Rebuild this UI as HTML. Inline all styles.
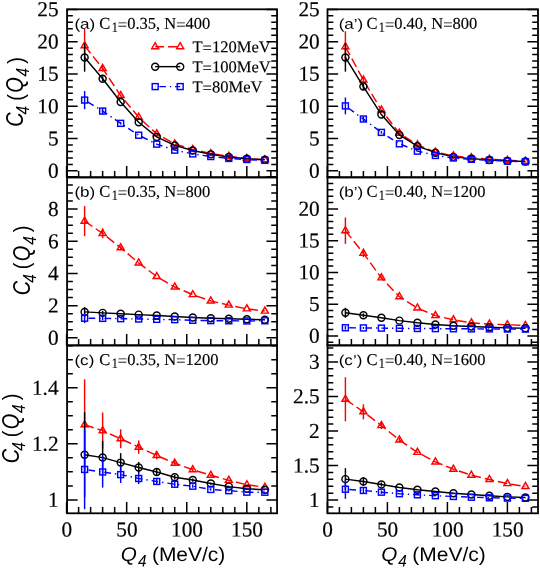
<!DOCTYPE html>
<html><head><meta charset="utf-8"><title>C4(Q4)</title>
<style>
html,body{margin:0;padding:0;background:#fff;}
svg{display:block;will-change:transform;}
text{fill:#000;}
.tl{font-family:"Liberation Serif",serif;font-size:21.3px;stroke:#000;stroke-width:0.18px;}
.pt{font-family:"Liberation Serif",serif;font-size:16.5px;stroke:#000;stroke-width:0.15px;}
.ss{font-family:"Liberation Sans",sans-serif;font-size:14.2px;}
.lg{font-family:"Liberation Serif",serif;font-size:16.55px;stroke:#000;stroke-width:0.15px;}
.xl{font-family:"Liberation Sans",sans-serif;font-size:20px;}
.yl{font-family:"Liberation Sans",sans-serif;}
</style></head><body>
<svg width="540" height="569" viewBox="0 0 540 569">
<rect width="540" height="569" fill="#fff"/>
<g>
<line x1="84.62" y1="29.03" x2="84.62" y2="62.62" stroke="#ff0000" stroke-width="1.45"/>
<line x1="102.64" y1="65.2" x2="102.64" y2="71.66" stroke="#ff0000" stroke-width="1.45"/>
<path d="M84.62 45.82L102.64 68.43L120.67 95.56L138.69 117.2L156.71 133.81L174.74 144.01L192.76 149.5L210.78 153.57L228.8 156.29L246.82 158.48L264.85 159.78" fill="none" stroke="#ff0000" stroke-width="1.45" stroke-dasharray="9.5 4" stroke-dashoffset="0"/>
<path d="M84.62 41.78L81.12 47.84L88.12 47.84Z" fill="none" stroke="#ff0000" stroke-width="1.45"/>
<path d="M102.64 64.39L99.14 70.45L106.14 70.45Z" fill="none" stroke="#ff0000" stroke-width="1.45"/>
<path d="M120.67 91.52L117.17 97.58L124.17 97.58Z" fill="none" stroke="#ff0000" stroke-width="1.45"/>
<path d="M138.69 113.16L135.19 119.23L142.19 119.23Z" fill="none" stroke="#ff0000" stroke-width="1.45"/>
<path d="M156.71 129.77L153.21 135.83L160.21 135.83Z" fill="none" stroke="#ff0000" stroke-width="1.45"/>
<path d="M174.74 139.97L171.24 146.03L178.24 146.03Z" fill="none" stroke="#ff0000" stroke-width="1.45"/>
<path d="M192.76 145.46L189.26 151.53L196.26 151.53Z" fill="none" stroke="#ff0000" stroke-width="1.45"/>
<path d="M210.78 149.53L207.28 155.6L214.28 155.6Z" fill="none" stroke="#ff0000" stroke-width="1.45"/>
<path d="M228.8 152.25L225.3 158.31L232.3 158.31Z" fill="none" stroke="#ff0000" stroke-width="1.45"/>
<path d="M246.82 154.44L243.32 160.51L250.32 160.51Z" fill="none" stroke="#ff0000" stroke-width="1.45"/>
<path d="M264.85 155.73L261.35 161.8L268.35 161.8Z" fill="none" stroke="#ff0000" stroke-width="1.45"/>
<line x1="84.62" y1="43.24" x2="84.62" y2="71.66" stroke="#000000" stroke-width="1.45"/>
<line x1="102.64" y1="76.18" x2="102.64" y2="81.35" stroke="#000000" stroke-width="1.45"/>
<path d="M84.62 57.45L102.64 78.77L120.67 102.02L138.69 122.31L156.71 136.91L174.74 145.44L192.76 150.47L210.78 154.35L228.8 157.06L246.82 158.81L264.85 159.84" fill="none" stroke="#000000" stroke-width="1.45"/>
<circle cx="84.62" cy="57.45" r="3.5" fill="none" stroke="#000000" stroke-width="1.45"/>
<circle cx="102.64" cy="78.77" r="3.5" fill="none" stroke="#000000" stroke-width="1.45"/>
<circle cx="120.67" cy="102.02" r="3.5" fill="none" stroke="#000000" stroke-width="1.45"/>
<circle cx="138.69" cy="122.31" r="3.5" fill="none" stroke="#000000" stroke-width="1.45"/>
<circle cx="156.71" cy="136.91" r="3.5" fill="none" stroke="#000000" stroke-width="1.45"/>
<circle cx="174.74" cy="145.44" r="3.5" fill="none" stroke="#000000" stroke-width="1.45"/>
<circle cx="192.76" cy="150.47" r="3.5" fill="none" stroke="#000000" stroke-width="1.45"/>
<circle cx="210.78" cy="154.35" r="3.5" fill="none" stroke="#000000" stroke-width="1.45"/>
<circle cx="228.8" cy="157.06" r="3.5" fill="none" stroke="#000000" stroke-width="1.45"/>
<circle cx="246.82" cy="158.81" r="3.5" fill="none" stroke="#000000" stroke-width="1.45"/>
<circle cx="264.85" cy="159.84" r="3.5" fill="none" stroke="#000000" stroke-width="1.45"/>
<line x1="84.62" y1="91.04" x2="84.62" y2="109.13" stroke="#0000ff" stroke-width="1.45"/>
<line x1="102.64" y1="107.84" x2="102.64" y2="114.3" stroke="#0000ff" stroke-width="1.45"/>
<line x1="120.67" y1="122.05" x2="120.67" y2="124.63" stroke="#0000ff" stroke-width="1.45"/>
<path d="M84.62 100.09L102.64 111.07L120.67 123.34L138.69 135.23L156.71 144.14L174.74 150.15L192.76 153.9L210.78 156.55L228.8 158.42L246.82 159.52L264.85 160.36" fill="none" stroke="#0000ff" stroke-width="1.45" stroke-dasharray="1.35 4 6.65 4" stroke-dashoffset="1.4"/>
<rect x="81.65" y="97.11" width="5.95" height="5.95" fill="none" stroke="#0000ff" stroke-width="1.45"/>
<rect x="99.67" y="108.09" width="5.95" height="5.95" fill="none" stroke="#0000ff" stroke-width="1.45"/>
<rect x="117.69" y="120.37" width="5.95" height="5.95" fill="none" stroke="#0000ff" stroke-width="1.45"/>
<rect x="135.72" y="132.25" width="5.95" height="5.95" fill="none" stroke="#0000ff" stroke-width="1.45"/>
<rect x="153.74" y="141.17" width="5.95" height="5.95" fill="none" stroke="#0000ff" stroke-width="1.45"/>
<rect x="171.76" y="147.18" width="5.95" height="5.95" fill="none" stroke="#0000ff" stroke-width="1.45"/>
<rect x="189.78" y="150.92" width="5.95" height="5.95" fill="none" stroke="#0000ff" stroke-width="1.45"/>
<rect x="207.81" y="153.57" width="5.95" height="5.95" fill="none" stroke="#0000ff" stroke-width="1.45"/>
<rect x="225.83" y="155.44" width="5.95" height="5.95" fill="none" stroke="#0000ff" stroke-width="1.45"/>
<rect x="243.85" y="156.54" width="5.95" height="5.95" fill="none" stroke="#0000ff" stroke-width="1.45"/>
<rect x="261.87" y="157.38" width="5.95" height="5.95" fill="none" stroke="#0000ff" stroke-width="1.45"/>
<path d="M67.05 177.31h5.8M277.05 177.31h-5.8M67.05 170.85h10.6M277.05 170.85h-10.6M67.05 164.39h5.8M277.05 164.39h-5.8M67.05 157.93h5.8M277.05 157.93h-5.8M67.05 151.48h5.8M277.05 151.48h-5.8M67.05 145.02h5.8M277.05 145.02h-5.8M67.05 138.56h10.6M277.05 138.56h-10.6M67.05 132.1h5.8M277.05 132.1h-5.8M67.05 125.64h5.8M277.05 125.64h-5.8M67.05 119.19h5.8M277.05 119.19h-5.8M67.05 112.73h5.8M277.05 112.73h-5.8M67.05 106.27h10.6M277.05 106.27h-10.6M67.05 99.81h5.8M277.05 99.81h-5.8M67.05 93.35h5.8M277.05 93.35h-5.8M67.05 86.9h5.8M277.05 86.9h-5.8M67.05 80.44h5.8M277.05 80.44h-5.8M67.05 73.98h10.6M277.05 73.98h-10.6M67.05 67.52h5.8M277.05 67.52h-5.8M67.05 61.06h5.8M277.05 61.06h-5.8M67.05 54.61h5.8M277.05 54.61h-5.8M67.05 48.15h5.8M277.05 48.15h-5.8M67.05 41.69h10.6M277.05 41.69h-10.6M67.05 35.23h5.8M277.05 35.23h-5.8M67.05 28.77h5.8M277.05 28.77h-5.8M67.05 22.32h5.8M277.05 22.32h-5.8M67.05 15.86h5.8M277.05 15.86h-5.8M67.05 9.4h10.6M277.05 9.4h-10.6M66.6 177.35v-11.3M78.61 177.35v-6.3M90.63 177.35v-6.3M102.64 177.35v-6.3M114.66 177.35v-6.3M126.67 177.35v-11.3M138.69 177.35v-6.3M150.7 177.35v-6.3M162.72 177.35v-6.3M174.74 177.35v-6.3M186.75 177.35v-11.3M198.76 177.35v-6.3M210.78 177.35v-6.3M222.79 177.35v-6.3M234.81 177.35v-6.3M246.82 177.35v-11.3M258.84 177.35v-6.3M270.86 177.35v-6.3" stroke="#000" stroke-width="1.5" fill="none"/>
<rect x="67.05" y="9.3" width="210" height="168.05" fill="none" stroke="#000" stroke-width="1.8"/>
<text transform="translate(58.55 177.75) rotate(0.03)" text-anchor="end" class="tl">0</text>
<text transform="translate(58.55 145.46) rotate(0.03)" text-anchor="end" class="tl">5</text>
<text transform="translate(58.55 113.17) rotate(0.03)" text-anchor="end" class="tl">10</text>
<text transform="translate(58.55 80.88) rotate(0.03)" text-anchor="end" class="tl">15</text>
<text transform="translate(58.55 48.59) rotate(0.03)" text-anchor="end" class="tl">20</text>
<text transform="translate(58.55 16.3) rotate(0.03)" text-anchor="end" class="tl">25</text>
<text transform="translate(74.45 28.8) rotate(0.03) scale(1.2 1)" class="ss">(a)</text>
<text transform="translate(99.35 28.8) rotate(0.03)" class="pt">C</text>
<text transform="translate(111.65 32.1) rotate(0.03) scale(0.85 1)" class="pt" style="font-size:14.4px">1</text>
<text transform="translate(117.85 28.8) rotate(0.03)" class="pt"><tspan dy="1.1">=</tspan><tspan dy="-1.1">0.35, N</tspan><tspan dy="1.1">=</tspan><tspan dy="-1.1">400</tspan></text>
</g>
<g>
<line x1="345.4" y1="31.29" x2="345.4" y2="62.3" stroke="#ff0000" stroke-width="1.45"/>
<line x1="363.4" y1="76.83" x2="363.4" y2="83.29" stroke="#ff0000" stroke-width="1.45"/>
<path d="M345.4 46.79L363.4 80.06L381.4 110.1L399.4 133.16L417.4 144.85L435.4 152.15L453.4 155.97L471.4 157.64L489.4 159.19L507.4 160.29L525.4 161.2" fill="none" stroke="#ff0000" stroke-width="1.45" stroke-dasharray="9.5 4" stroke-dashoffset="0"/>
<path d="M345.4 42.75L341.9 48.81L348.9 48.81Z" fill="none" stroke="#ff0000" stroke-width="1.45"/>
<path d="M363.4 76.02L359.9 82.08L366.9 82.08Z" fill="none" stroke="#ff0000" stroke-width="1.45"/>
<path d="M381.4 106.06L377.9 112.12L384.9 112.12Z" fill="none" stroke="#ff0000" stroke-width="1.45"/>
<path d="M399.4 129.12L395.9 135.18L402.9 135.18Z" fill="none" stroke="#ff0000" stroke-width="1.45"/>
<path d="M417.4 140.81L413.9 146.87L420.9 146.87Z" fill="none" stroke="#ff0000" stroke-width="1.45"/>
<path d="M435.4 148.11L431.9 154.17L438.9 154.17Z" fill="none" stroke="#ff0000" stroke-width="1.45"/>
<path d="M453.4 151.92L449.9 157.99L456.9 157.99Z" fill="none" stroke="#ff0000" stroke-width="1.45"/>
<path d="M471.4 153.6L467.9 159.67L474.9 159.67Z" fill="none" stroke="#ff0000" stroke-width="1.45"/>
<path d="M489.4 155.15L485.9 161.22L492.9 161.22Z" fill="none" stroke="#ff0000" stroke-width="1.45"/>
<path d="M507.4 156.25L503.9 162.31L510.9 162.31Z" fill="none" stroke="#ff0000" stroke-width="1.45"/>
<path d="M525.4 157.16L521.9 163.22L528.9 163.22Z" fill="none" stroke="#ff0000" stroke-width="1.45"/>
<line x1="345.4" y1="43.24" x2="345.4" y2="71.66" stroke="#000000" stroke-width="1.45"/>
<line x1="363.4" y1="83.94" x2="363.4" y2="89.1" stroke="#000000" stroke-width="1.45"/>
<path d="M345.4 57.45L363.4 86.52L381.4 114.56L399.4 134.97L417.4 146.21L435.4 152.67L453.4 156.87L471.4 158.61L489.4 159.91L507.4 160.87L525.4 161.46" fill="none" stroke="#000000" stroke-width="1.45"/>
<circle cx="345.4" cy="57.45" r="3.5" fill="none" stroke="#000000" stroke-width="1.45"/>
<circle cx="363.4" cy="86.52" r="3.5" fill="none" stroke="#000000" stroke-width="1.45"/>
<circle cx="381.4" cy="114.56" r="3.5" fill="none" stroke="#000000" stroke-width="1.45"/>
<circle cx="399.4" cy="134.97" r="3.5" fill="none" stroke="#000000" stroke-width="1.45"/>
<circle cx="417.4" cy="146.21" r="3.5" fill="none" stroke="#000000" stroke-width="1.45"/>
<circle cx="435.4" cy="152.67" r="3.5" fill="none" stroke="#000000" stroke-width="1.45"/>
<circle cx="453.4" cy="156.87" r="3.5" fill="none" stroke="#000000" stroke-width="1.45"/>
<circle cx="471.4" cy="158.61" r="3.5" fill="none" stroke="#000000" stroke-width="1.45"/>
<circle cx="489.4" cy="159.91" r="3.5" fill="none" stroke="#000000" stroke-width="1.45"/>
<circle cx="507.4" cy="160.87" r="3.5" fill="none" stroke="#000000" stroke-width="1.45"/>
<circle cx="525.4" cy="161.46" r="3.5" fill="none" stroke="#000000" stroke-width="1.45"/>
<line x1="345.4" y1="97.5" x2="345.4" y2="114.3" stroke="#0000ff" stroke-width="1.45"/>
<line x1="363.4" y1="116.43" x2="363.4" y2="121.6" stroke="#0000ff" stroke-width="1.45"/>
<line x1="381.4" y1="131.09" x2="381.4" y2="133.68" stroke="#0000ff" stroke-width="1.45"/>
<path d="M345.4 105.9L363.4 119.01L381.4 132.39L399.4 143.82L417.4 151.12L435.4 155.45L453.4 157.97L471.4 159.32L489.4 160.29L507.4 161.13L525.4 161.71" fill="none" stroke="#0000ff" stroke-width="1.45" stroke-dasharray="1.35 4 6.65 4" stroke-dashoffset="1.4"/>
<rect x="342.42" y="102.93" width="5.95" height="5.95" fill="none" stroke="#0000ff" stroke-width="1.45"/>
<rect x="360.42" y="116.04" width="5.95" height="5.95" fill="none" stroke="#0000ff" stroke-width="1.45"/>
<rect x="378.42" y="129.41" width="5.95" height="5.95" fill="none" stroke="#0000ff" stroke-width="1.45"/>
<rect x="396.42" y="140.85" width="5.95" height="5.95" fill="none" stroke="#0000ff" stroke-width="1.45"/>
<rect x="414.42" y="148.15" width="5.95" height="5.95" fill="none" stroke="#0000ff" stroke-width="1.45"/>
<rect x="432.42" y="152.47" width="5.95" height="5.95" fill="none" stroke="#0000ff" stroke-width="1.45"/>
<rect x="450.42" y="154.99" width="5.95" height="5.95" fill="none" stroke="#0000ff" stroke-width="1.45"/>
<rect x="468.42" y="156.35" width="5.95" height="5.95" fill="none" stroke="#0000ff" stroke-width="1.45"/>
<rect x="486.42" y="157.32" width="5.95" height="5.95" fill="none" stroke="#0000ff" stroke-width="1.45"/>
<rect x="504.42" y="158.16" width="5.95" height="5.95" fill="none" stroke="#0000ff" stroke-width="1.45"/>
<rect x="522.42" y="158.74" width="5.95" height="5.95" fill="none" stroke="#0000ff" stroke-width="1.45"/>
<path d="M327.5 177.31h5.8M538 177.31h-5.8M327.5 170.85h10.6M538 170.85h-10.6M327.5 164.39h5.8M538 164.39h-5.8M327.5 157.93h5.8M538 157.93h-5.8M327.5 151.48h5.8M538 151.48h-5.8M327.5 145.02h5.8M538 145.02h-5.8M327.5 138.56h10.6M538 138.56h-10.6M327.5 132.1h5.8M538 132.1h-5.8M327.5 125.64h5.8M538 125.64h-5.8M327.5 119.19h5.8M538 119.19h-5.8M327.5 112.73h5.8M538 112.73h-5.8M327.5 106.27h10.6M538 106.27h-10.6M327.5 99.81h5.8M538 99.81h-5.8M327.5 93.35h5.8M538 93.35h-5.8M327.5 86.9h5.8M538 86.9h-5.8M327.5 80.44h5.8M538 80.44h-5.8M327.5 73.98h10.6M538 73.98h-10.6M327.5 67.52h5.8M538 67.52h-5.8M327.5 61.06h5.8M538 61.06h-5.8M327.5 54.61h5.8M538 54.61h-5.8M327.5 48.15h5.8M538 48.15h-5.8M327.5 41.69h10.6M538 41.69h-10.6M327.5 35.23h5.8M538 35.23h-5.8M327.5 28.77h5.8M538 28.77h-5.8M327.5 22.32h5.8M538 22.32h-5.8M327.5 15.86h5.8M538 15.86h-5.8M327.5 9.4h10.6M538 9.4h-10.6M327.4 177.35v-11.3M339.4 177.35v-6.3M351.4 177.35v-6.3M363.4 177.35v-6.3M375.4 177.35v-6.3M387.4 177.35v-11.3M399.4 177.35v-6.3M411.4 177.35v-6.3M423.4 177.35v-6.3M435.4 177.35v-6.3M447.4 177.35v-11.3M459.4 177.35v-6.3M471.4 177.35v-6.3M483.4 177.35v-6.3M495.4 177.35v-6.3M507.4 177.35v-11.3M519.4 177.35v-6.3M531.4 177.35v-6.3" stroke="#000" stroke-width="1.5" fill="none"/>
<rect x="327.5" y="9.3" width="210.5" height="168.05" fill="none" stroke="#000" stroke-width="1.8"/>
<text transform="translate(319.7 177.75) rotate(0.03)" text-anchor="end" class="tl">0</text>
<text transform="translate(319.7 145.46) rotate(0.03)" text-anchor="end" class="tl">5</text>
<text transform="translate(319.7 113.17) rotate(0.03)" text-anchor="end" class="tl">10</text>
<text transform="translate(319.7 80.88) rotate(0.03)" text-anchor="end" class="tl">15</text>
<text transform="translate(319.7 48.59) rotate(0.03)" text-anchor="end" class="tl">20</text>
<text transform="translate(319.7 16.3) rotate(0.03)" text-anchor="end" class="tl">25</text>
<text transform="translate(338.7 28.8) rotate(0.03) scale(1.2 1)" class="ss">(a’)</text>
<text transform="translate(366.4 28.8) rotate(0.03)" class="pt">C</text>
<text transform="translate(378.7 32.1) rotate(0.03) scale(0.85 1)" class="pt" style="font-size:14.4px">1</text>
<text transform="translate(384.9 28.8) rotate(0.03)" class="pt"><tspan dy="1.1">=</tspan><tspan dy="-1.1">0.40, N</tspan><tspan dy="1.1">=</tspan><tspan dy="-1.1">800</tspan></text>
</g>
<g>
<line x1="84.62" y1="206.12" x2="84.62" y2="236.15" stroke="#ff0000" stroke-width="1.45"/>
<line x1="102.64" y1="228.56" x2="102.64" y2="238.25" stroke="#ff0000" stroke-width="1.45"/>
<line x1="120.67" y1="245.84" x2="120.67" y2="249.72" stroke="#ff0000" stroke-width="1.45"/>
<path d="M84.62 221.14L102.64 233.41L120.67 247.78L138.69 262.96L156.71 276.53L174.74 287.03L192.76 294.62L210.78 300.92L228.8 305.12L246.82 308.83L264.85 311.09" fill="none" stroke="#ff0000" stroke-width="1.45" stroke-dasharray="9.5 4" stroke-dashoffset="0"/>
<path d="M84.62 217.09L81.12 223.16L88.12 223.16Z" fill="none" stroke="#ff0000" stroke-width="1.45"/>
<path d="M102.64 229.37L99.14 235.43L106.14 235.43Z" fill="none" stroke="#ff0000" stroke-width="1.45"/>
<path d="M120.67 243.74L117.17 249.8L124.17 249.8Z" fill="none" stroke="#ff0000" stroke-width="1.45"/>
<path d="M138.69 258.92L135.19 264.98L142.19 264.98Z" fill="none" stroke="#ff0000" stroke-width="1.45"/>
<path d="M156.71 272.49L153.21 278.55L160.21 278.55Z" fill="none" stroke="#ff0000" stroke-width="1.45"/>
<path d="M174.74 282.99L171.24 289.05L178.24 289.05Z" fill="none" stroke="#ff0000" stroke-width="1.45"/>
<path d="M192.76 290.58L189.26 296.64L196.26 296.64Z" fill="none" stroke="#ff0000" stroke-width="1.45"/>
<path d="M210.78 296.88L207.28 302.94L214.28 302.94Z" fill="none" stroke="#ff0000" stroke-width="1.45"/>
<path d="M228.8 301.07L225.3 307.14L232.3 307.14Z" fill="none" stroke="#ff0000" stroke-width="1.45"/>
<path d="M246.82 304.79L243.32 310.85L250.32 310.85Z" fill="none" stroke="#ff0000" stroke-width="1.45"/>
<path d="M264.85 307.05L261.35 313.11L268.35 313.11Z" fill="none" stroke="#ff0000" stroke-width="1.45"/>
<line x1="84.62" y1="307.05" x2="84.62" y2="316.74" stroke="#000000" stroke-width="1.45"/>
<line x1="102.64" y1="310.93" x2="102.64" y2="314.81" stroke="#000000" stroke-width="1.45"/>
<path d="M84.62 311.9L102.64 312.87L120.67 313.84L138.69 314.64L156.71 315.45L174.74 316.42L192.76 317.55L210.78 318.2L228.8 318.84L246.82 319.17L264.85 319.81" fill="none" stroke="#000000" stroke-width="1.45"/>
<circle cx="84.62" cy="311.9" r="3.5" fill="none" stroke="#000000" stroke-width="1.45"/>
<circle cx="102.64" cy="312.87" r="3.5" fill="none" stroke="#000000" stroke-width="1.45"/>
<circle cx="120.67" cy="313.84" r="3.5" fill="none" stroke="#000000" stroke-width="1.45"/>
<circle cx="138.69" cy="314.64" r="3.5" fill="none" stroke="#000000" stroke-width="1.45"/>
<circle cx="156.71" cy="315.45" r="3.5" fill="none" stroke="#000000" stroke-width="1.45"/>
<circle cx="174.74" cy="316.42" r="3.5" fill="none" stroke="#000000" stroke-width="1.45"/>
<circle cx="192.76" cy="317.55" r="3.5" fill="none" stroke="#000000" stroke-width="1.45"/>
<circle cx="210.78" cy="318.2" r="3.5" fill="none" stroke="#000000" stroke-width="1.45"/>
<circle cx="228.8" cy="318.84" r="3.5" fill="none" stroke="#000000" stroke-width="1.45"/>
<circle cx="246.82" cy="319.17" r="3.5" fill="none" stroke="#000000" stroke-width="1.45"/>
<circle cx="264.85" cy="319.81" r="3.5" fill="none" stroke="#000000" stroke-width="1.45"/>
<line x1="84.62" y1="313.35" x2="84.62" y2="323.04" stroke="#0000ff" stroke-width="1.45"/>
<line x1="102.64" y1="316.42" x2="102.64" y2="320.3" stroke="#0000ff" stroke-width="1.45"/>
<path d="M84.62 318.2L102.64 318.36L120.67 318.68L138.69 319L156.71 319.33L174.74 319.65L192.76 320.3L210.78 320.62L228.8 320.78L246.82 320.94L264.85 320.78" fill="none" stroke="#0000ff" stroke-width="1.45" stroke-dasharray="1.35 4 6.65 4" stroke-dashoffset="1.4"/>
<rect x="81.65" y="315.22" width="5.95" height="5.95" fill="none" stroke="#0000ff" stroke-width="1.45"/>
<rect x="99.67" y="315.38" width="5.95" height="5.95" fill="none" stroke="#0000ff" stroke-width="1.45"/>
<rect x="117.69" y="315.71" width="5.95" height="5.95" fill="none" stroke="#0000ff" stroke-width="1.45"/>
<rect x="135.72" y="316.03" width="5.95" height="5.95" fill="none" stroke="#0000ff" stroke-width="1.45"/>
<rect x="153.74" y="316.35" width="5.95" height="5.95" fill="none" stroke="#0000ff" stroke-width="1.45"/>
<rect x="171.76" y="316.68" width="5.95" height="5.95" fill="none" stroke="#0000ff" stroke-width="1.45"/>
<rect x="189.78" y="317.32" width="5.95" height="5.95" fill="none" stroke="#0000ff" stroke-width="1.45"/>
<rect x="207.81" y="317.64" width="5.95" height="5.95" fill="none" stroke="#0000ff" stroke-width="1.45"/>
<rect x="225.83" y="317.81" width="5.95" height="5.95" fill="none" stroke="#0000ff" stroke-width="1.45"/>
<rect x="243.85" y="317.97" width="5.95" height="5.95" fill="none" stroke="#0000ff" stroke-width="1.45"/>
<rect x="261.87" y="317.81" width="5.95" height="5.95" fill="none" stroke="#0000ff" stroke-width="1.45"/>
<path d="M67.05 337.85h10.6M277.05 337.85h-10.6M67.05 329.8h5.8M277.05 329.8h-5.8M67.05 321.75h5.8M277.05 321.75h-5.8M67.05 313.7h5.8M277.05 313.7h-5.8M67.05 305.65h10.6M277.05 305.65h-10.6M67.05 297.6h5.8M277.05 297.6h-5.8M67.05 289.55h5.8M277.05 289.55h-5.8M67.05 281.5h5.8M277.05 281.5h-5.8M67.05 273.45h10.6M277.05 273.45h-10.6M67.05 265.4h5.8M277.05 265.4h-5.8M67.05 257.35h5.8M277.05 257.35h-5.8M67.05 249.3h5.8M277.05 249.3h-5.8M67.05 241.25h10.6M277.05 241.25h-10.6M67.05 233.2h5.8M277.05 233.2h-5.8M67.05 225.15h5.8M277.05 225.15h-5.8M67.05 217.1h5.8M277.05 217.1h-5.8M67.05 209.05h10.6M277.05 209.05h-10.6M67.05 201h5.8M277.05 201h-5.8M67.05 192.95h5.8M277.05 192.95h-5.8M67.05 184.9h5.8M277.05 184.9h-5.8M67.05 176.85h10.6M277.05 176.85h-10.6M66.6 345.4v-11.3M78.61 345.4v-6.3M90.63 345.4v-6.3M102.64 345.4v-6.3M114.66 345.4v-6.3M126.67 345.4v-11.3M138.69 345.4v-6.3M150.7 345.4v-6.3M162.72 345.4v-6.3M174.74 345.4v-6.3M186.75 345.4v-11.3M198.76 345.4v-6.3M210.78 345.4v-6.3M222.79 345.4v-6.3M234.81 345.4v-6.3M246.82 345.4v-11.3M258.84 345.4v-6.3M270.86 345.4v-6.3" stroke="#000" stroke-width="1.5" fill="none"/>
<rect x="67.05" y="177.35" width="210" height="168.05" fill="none" stroke="#000" stroke-width="1.8"/>
<text transform="translate(58.55 344.75) rotate(0.03)" text-anchor="end" class="tl">0</text>
<text transform="translate(58.55 312.55) rotate(0.03)" text-anchor="end" class="tl">2</text>
<text transform="translate(58.55 280.35) rotate(0.03)" text-anchor="end" class="tl">4</text>
<text transform="translate(58.55 248.15) rotate(0.03)" text-anchor="end" class="tl">6</text>
<text transform="translate(58.55 215.95) rotate(0.03)" text-anchor="end" class="tl">8</text>
<text transform="translate(74.45 196.85) rotate(0.03) scale(1.2 1)" class="ss">(b)</text>
<text transform="translate(99.35 196.85) rotate(0.03)" class="pt">C</text>
<text transform="translate(111.65 200.15) rotate(0.03) scale(0.85 1)" class="pt" style="font-size:14.4px">1</text>
<text transform="translate(117.85 196.85) rotate(0.03)" class="pt"><tspan dy="1.1">=</tspan><tspan dy="-1.1">0.35, N</tspan><tspan dy="1.1">=</tspan><tspan dy="-1.1">800</tspan></text>
</g>
<g>
<line x1="345.4" y1="217.48" x2="345.4" y2="243.9" stroke="#ff0000" stroke-width="1.45"/>
<line x1="363.4" y1="249.56" x2="363.4" y2="257.1" stroke="#ff0000" stroke-width="1.45"/>
<line x1="381.4" y1="276.29" x2="381.4" y2="279.43" stroke="#ff0000" stroke-width="1.45"/>
<path d="M345.4 230.69L363.4 253.33L381.4 277.86L399.4 296.73L417.4 308.05L435.4 315.6L453.4 319.82L471.4 322.83L489.4 324.09L507.4 324.72L525.4 325.48" fill="none" stroke="#ff0000" stroke-width="1.45" stroke-dasharray="9.5 4" stroke-dashoffset="0"/>
<path d="M345.4 226.64L341.9 232.71L348.9 232.71Z" fill="none" stroke="#ff0000" stroke-width="1.45"/>
<path d="M363.4 249.29L359.9 255.35L366.9 255.35Z" fill="none" stroke="#ff0000" stroke-width="1.45"/>
<path d="M381.4 273.82L377.9 279.88L384.9 279.88Z" fill="none" stroke="#ff0000" stroke-width="1.45"/>
<path d="M399.4 292.69L395.9 298.75L402.9 298.75Z" fill="none" stroke="#ff0000" stroke-width="1.45"/>
<path d="M417.4 304.01L413.9 310.07L420.9 310.07Z" fill="none" stroke="#ff0000" stroke-width="1.45"/>
<path d="M435.4 311.56L431.9 317.62L438.9 317.62Z" fill="none" stroke="#ff0000" stroke-width="1.45"/>
<path d="M453.4 315.77L449.9 321.84L456.9 321.84Z" fill="none" stroke="#ff0000" stroke-width="1.45"/>
<path d="M471.4 318.79L467.9 324.86L474.9 324.86Z" fill="none" stroke="#ff0000" stroke-width="1.45"/>
<path d="M489.4 320.05L485.9 326.11L492.9 326.11Z" fill="none" stroke="#ff0000" stroke-width="1.45"/>
<path d="M507.4 320.68L503.9 326.74L510.9 326.74Z" fill="none" stroke="#ff0000" stroke-width="1.45"/>
<path d="M525.4 321.43L521.9 327.5L528.9 327.5Z" fill="none" stroke="#ff0000" stroke-width="1.45"/>
<line x1="345.4" y1="307.74" x2="345.4" y2="317.8" stroke="#000000" stroke-width="1.45"/>
<line x1="363.4" y1="313.4" x2="363.4" y2="317.17" stroke="#000000" stroke-width="1.45"/>
<path d="M345.4 312.77L363.4 315.29L381.4 317.8L399.4 320.63L417.4 322.83L435.4 324.41L453.4 325.67L471.4 326.48L489.4 327.24L507.4 327.87L525.4 328.31" fill="none" stroke="#000000" stroke-width="1.45"/>
<circle cx="345.4" cy="312.77" r="3.5" fill="none" stroke="#000000" stroke-width="1.45"/>
<circle cx="363.4" cy="315.29" r="3.5" fill="none" stroke="#000000" stroke-width="1.45"/>
<circle cx="381.4" cy="317.8" r="3.5" fill="none" stroke="#000000" stroke-width="1.45"/>
<circle cx="399.4" cy="320.63" r="3.5" fill="none" stroke="#000000" stroke-width="1.45"/>
<circle cx="417.4" cy="322.83" r="3.5" fill="none" stroke="#000000" stroke-width="1.45"/>
<circle cx="435.4" cy="324.41" r="3.5" fill="none" stroke="#000000" stroke-width="1.45"/>
<circle cx="453.4" cy="325.67" r="3.5" fill="none" stroke="#000000" stroke-width="1.45"/>
<circle cx="471.4" cy="326.48" r="3.5" fill="none" stroke="#000000" stroke-width="1.45"/>
<circle cx="489.4" cy="327.24" r="3.5" fill="none" stroke="#000000" stroke-width="1.45"/>
<circle cx="507.4" cy="327.87" r="3.5" fill="none" stroke="#000000" stroke-width="1.45"/>
<circle cx="525.4" cy="328.31" r="3.5" fill="none" stroke="#000000" stroke-width="1.45"/>
<line x1="345.4" y1="325.85" x2="345.4" y2="329.63" stroke="#0000ff" stroke-width="1.45"/>
<line x1="363.4" y1="326.99" x2="363.4" y2="328.87" stroke="#0000ff" stroke-width="1.45"/>
<path d="M345.4 327.74L363.4 327.93L381.4 328.12L399.4 328.31L417.4 328.5L435.4 328.62L453.4 328.75L471.4 328.87L489.4 328.94L507.4 329L525.4 329.06" fill="none" stroke="#0000ff" stroke-width="1.45" stroke-dasharray="1.35 4 6.65 4" stroke-dashoffset="1.4"/>
<rect x="342.42" y="324.77" width="5.95" height="5.95" fill="none" stroke="#0000ff" stroke-width="1.45"/>
<rect x="360.42" y="324.95" width="5.95" height="5.95" fill="none" stroke="#0000ff" stroke-width="1.45"/>
<rect x="378.42" y="325.14" width="5.95" height="5.95" fill="none" stroke="#0000ff" stroke-width="1.45"/>
<rect x="396.42" y="325.33" width="5.95" height="5.95" fill="none" stroke="#0000ff" stroke-width="1.45"/>
<rect x="414.42" y="325.52" width="5.95" height="5.95" fill="none" stroke="#0000ff" stroke-width="1.45"/>
<rect x="432.42" y="325.65" width="5.95" height="5.95" fill="none" stroke="#0000ff" stroke-width="1.45"/>
<rect x="450.42" y="325.77" width="5.95" height="5.95" fill="none" stroke="#0000ff" stroke-width="1.45"/>
<rect x="468.42" y="325.9" width="5.95" height="5.95" fill="none" stroke="#0000ff" stroke-width="1.45"/>
<rect x="486.42" y="325.96" width="5.95" height="5.95" fill="none" stroke="#0000ff" stroke-width="1.45"/>
<rect x="504.42" y="326.02" width="5.95" height="5.95" fill="none" stroke="#0000ff" stroke-width="1.45"/>
<rect x="522.42" y="326.09" width="5.95" height="5.95" fill="none" stroke="#0000ff" stroke-width="1.45"/>
<path d="M327.5 342.25h5.8M538 342.25h-5.8M327.5 335.9h10.6M538 335.9h-10.6M327.5 329.55h5.8M538 329.55h-5.8M327.5 323.2h5.8M538 323.2h-5.8M327.5 316.85h5.8M538 316.85h-5.8M327.5 310.5h5.8M538 310.5h-5.8M327.5 304.15h10.6M538 304.15h-10.6M327.5 297.8h5.8M538 297.8h-5.8M327.5 291.45h5.8M538 291.45h-5.8M327.5 285.1h5.8M538 285.1h-5.8M327.5 278.75h5.8M538 278.75h-5.8M327.5 272.4h10.6M538 272.4h-10.6M327.5 266.05h5.8M538 266.05h-5.8M327.5 259.7h5.8M538 259.7h-5.8M327.5 253.35h5.8M538 253.35h-5.8M327.5 247h5.8M538 247h-5.8M327.5 240.65h10.6M538 240.65h-10.6M327.5 234.3h5.8M538 234.3h-5.8M327.5 227.95h5.8M538 227.95h-5.8M327.5 221.6h5.8M538 221.6h-5.8M327.5 215.25h5.8M538 215.25h-5.8M327.5 208.9h10.6M538 208.9h-10.6M327.5 202.55h5.8M538 202.55h-5.8M327.5 196.2h5.8M538 196.2h-5.8M327.5 189.85h5.8M538 189.85h-5.8M327.5 183.5h5.8M538 183.5h-5.8M327.5 177.15h10.6M538 177.15h-10.6M327.4 345.4v-11.3M339.4 345.4v-6.3M351.4 345.4v-6.3M363.4 345.4v-6.3M375.4 345.4v-6.3M387.4 345.4v-11.3M399.4 345.4v-6.3M411.4 345.4v-6.3M423.4 345.4v-6.3M435.4 345.4v-6.3M447.4 345.4v-11.3M459.4 345.4v-6.3M471.4 345.4v-6.3M483.4 345.4v-6.3M495.4 345.4v-6.3M507.4 345.4v-11.3M519.4 345.4v-6.3M531.4 345.4v-6.3" stroke="#000" stroke-width="1.5" fill="none"/>
<rect x="327.5" y="177.35" width="210.5" height="168.05" fill="none" stroke="#000" stroke-width="1.8"/>
<text transform="translate(319.7 342.8) rotate(0.03)" text-anchor="end" class="tl">0</text>
<text transform="translate(319.7 311.05) rotate(0.03)" text-anchor="end" class="tl">5</text>
<text transform="translate(319.7 279.3) rotate(0.03)" text-anchor="end" class="tl">10</text>
<text transform="translate(319.7 247.55) rotate(0.03)" text-anchor="end" class="tl">15</text>
<text transform="translate(319.7 215.8) rotate(0.03)" text-anchor="end" class="tl">20</text>
<text transform="translate(338.7 196.85) rotate(0.03) scale(1.2 1)" class="ss">(b’)</text>
<text transform="translate(366.4 196.85) rotate(0.03)" class="pt">C</text>
<text transform="translate(378.7 200.15) rotate(0.03) scale(0.85 1)" class="pt" style="font-size:14.4px">1</text>
<text transform="translate(384.9 196.85) rotate(0.03)" class="pt"><tspan dy="1.1">=</tspan><tspan dy="-1.1">0.40, N</tspan><tspan dy="1.1">=</tspan><tspan dy="-1.1">1200</tspan></text>
</g>
<g>
<line x1="84.62" y1="379.33" x2="84.62" y2="470.28" stroke="#ff0000" stroke-width="1.45"/>
<line x1="102.64" y1="412.53" x2="102.64" y2="448.8" stroke="#ff0000" stroke-width="1.45"/>
<line x1="120.67" y1="429.27" x2="120.67" y2="448.24" stroke="#ff0000" stroke-width="1.45"/>
<line x1="138.69" y1="440.43" x2="138.69" y2="453.82" stroke="#ff0000" stroke-width="1.45"/>
<line x1="156.71" y1="451.87" x2="156.71" y2="459.12" stroke="#ff0000" stroke-width="1.45"/>
<line x1="174.74" y1="460.66" x2="174.74" y2="465.68" stroke="#ff0000" stroke-width="1.45"/>
<line x1="192.76" y1="468.05" x2="192.76" y2="471.4" stroke="#ff0000" stroke-width="1.45"/>
<line x1="210.78" y1="474.19" x2="210.78" y2="476.42" stroke="#ff0000" stroke-width="1.45"/>
<line x1="228.8" y1="479.49" x2="228.8" y2="481.16" stroke="#ff0000" stroke-width="1.45"/>
<path d="M84.62 424.81L102.64 430.67L120.67 438.76L138.69 447.13L156.71 455.5L174.74 463.17L192.76 469.73L210.78 475.31L228.8 480.33L246.82 484.79L264.85 487.3" fill="none" stroke="#ff0000" stroke-width="1.45" stroke-dasharray="9.5 4" stroke-dashoffset="0"/>
<path d="M84.62 420.77L81.12 426.83L88.12 426.83Z" fill="none" stroke="#ff0000" stroke-width="1.45"/>
<path d="M102.64 426.62L99.14 432.69L106.14 432.69Z" fill="none" stroke="#ff0000" stroke-width="1.45"/>
<path d="M120.67 434.72L117.17 440.78L124.17 440.78Z" fill="none" stroke="#ff0000" stroke-width="1.45"/>
<path d="M138.69 443.09L135.19 449.15L142.19 449.15Z" fill="none" stroke="#ff0000" stroke-width="1.45"/>
<path d="M156.71 451.46L153.21 457.52L160.21 457.52Z" fill="none" stroke="#ff0000" stroke-width="1.45"/>
<path d="M174.74 459.13L171.24 465.19L178.24 465.19Z" fill="none" stroke="#ff0000" stroke-width="1.45"/>
<path d="M192.76 465.68L189.26 471.75L196.26 471.75Z" fill="none" stroke="#ff0000" stroke-width="1.45"/>
<path d="M210.78 471.26L207.28 477.33L214.28 477.33Z" fill="none" stroke="#ff0000" stroke-width="1.45"/>
<path d="M228.8 476.29L225.3 482.35L232.3 482.35Z" fill="none" stroke="#ff0000" stroke-width="1.45"/>
<path d="M246.82 480.75L243.32 486.81L250.32 486.81Z" fill="none" stroke="#ff0000" stroke-width="1.45"/>
<path d="M264.85 483.26L261.35 489.32L268.35 489.32Z" fill="none" stroke="#ff0000" stroke-width="1.45"/>
<line x1="84.62" y1="412.25" x2="84.62" y2="497.07" stroke="#000000" stroke-width="1.45"/>
<line x1="102.64" y1="440.85" x2="102.64" y2="474.33" stroke="#000000" stroke-width="1.45"/>
<line x1="120.67" y1="453.13" x2="120.67" y2="472.1" stroke="#000000" stroke-width="1.45"/>
<line x1="138.69" y1="461.91" x2="138.69" y2="473.07" stroke="#000000" stroke-width="1.45"/>
<line x1="156.71" y1="468.61" x2="156.71" y2="475.31" stroke="#000000" stroke-width="1.45"/>
<line x1="174.74" y1="475.03" x2="174.74" y2="479.49" stroke="#000000" stroke-width="1.45"/>
<line x1="192.76" y1="478.38" x2="192.76" y2="481.72" stroke="#000000" stroke-width="1.45"/>
<line x1="210.78" y1="482.42" x2="210.78" y2="484.65" stroke="#000000" stroke-width="1.45"/>
<line x1="228.8" y1="485.77" x2="228.8" y2="487.44" stroke="#000000" stroke-width="1.45"/>
<path d="M84.62 454.66L102.64 457.59L120.67 462.61L138.69 467.49L156.71 471.96L174.74 477.26L192.76 480.05L210.78 483.54L228.8 486.61L246.82 488.84L264.85 489.81" fill="none" stroke="#000000" stroke-width="1.45"/>
<circle cx="84.62" cy="454.66" r="3.5" fill="none" stroke="#000000" stroke-width="1.45"/>
<circle cx="102.64" cy="457.59" r="3.5" fill="none" stroke="#000000" stroke-width="1.45"/>
<circle cx="120.67" cy="462.61" r="3.5" fill="none" stroke="#000000" stroke-width="1.45"/>
<circle cx="138.69" cy="467.49" r="3.5" fill="none" stroke="#000000" stroke-width="1.45"/>
<circle cx="156.71" cy="471.96" r="3.5" fill="none" stroke="#000000" stroke-width="1.45"/>
<circle cx="174.74" cy="477.26" r="3.5" fill="none" stroke="#000000" stroke-width="1.45"/>
<circle cx="192.76" cy="480.05" r="3.5" fill="none" stroke="#000000" stroke-width="1.45"/>
<circle cx="210.78" cy="483.54" r="3.5" fill="none" stroke="#000000" stroke-width="1.45"/>
<circle cx="228.8" cy="486.61" r="3.5" fill="none" stroke="#000000" stroke-width="1.45"/>
<circle cx="246.82" cy="488.84" r="3.5" fill="none" stroke="#000000" stroke-width="1.45"/>
<circle cx="264.85" cy="489.81" r="3.5" fill="none" stroke="#000000" stroke-width="1.45"/>
<line x1="84.62" y1="429.69" x2="84.62" y2="509.2" stroke="#0000ff" stroke-width="1.45"/>
<line x1="102.64" y1="456.33" x2="102.64" y2="487.58" stroke="#0000ff" stroke-width="1.45"/>
<line x1="120.67" y1="466.24" x2="120.67" y2="482.98" stroke="#0000ff" stroke-width="1.45"/>
<line x1="138.69" y1="472.91" x2="138.69" y2="484.07" stroke="#0000ff" stroke-width="1.45"/>
<line x1="156.71" y1="478.1" x2="156.71" y2="484.79" stroke="#0000ff" stroke-width="1.45"/>
<line x1="174.74" y1="482" x2="174.74" y2="486.47" stroke="#0000ff" stroke-width="1.45"/>
<line x1="192.76" y1="484.51" x2="192.76" y2="487.86" stroke="#0000ff" stroke-width="1.45"/>
<line x1="210.78" y1="488.34" x2="210.78" y2="490.57" stroke="#0000ff" stroke-width="1.45"/>
<line x1="228.8" y1="489.81" x2="228.8" y2="491.49" stroke="#0000ff" stroke-width="1.45"/>
<path d="M84.62 469.45L102.64 471.96L120.67 474.61L138.69 478.49L156.71 481.44L174.74 484.23L192.76 486.19L210.78 489.45L228.8 490.65L246.82 492.19L264.85 492.21" fill="none" stroke="#0000ff" stroke-width="1.45" stroke-dasharray="1.35 4 6.65 4" stroke-dashoffset="1.4"/>
<rect x="81.65" y="466.47" width="5.95" height="5.95" fill="none" stroke="#0000ff" stroke-width="1.45"/>
<rect x="99.67" y="468.98" width="5.95" height="5.95" fill="none" stroke="#0000ff" stroke-width="1.45"/>
<rect x="117.69" y="471.63" width="5.95" height="5.95" fill="none" stroke="#0000ff" stroke-width="1.45"/>
<rect x="135.72" y="475.51" width="5.95" height="5.95" fill="none" stroke="#0000ff" stroke-width="1.45"/>
<rect x="153.74" y="478.47" width="5.95" height="5.95" fill="none" stroke="#0000ff" stroke-width="1.45"/>
<rect x="171.76" y="481.26" width="5.95" height="5.95" fill="none" stroke="#0000ff" stroke-width="1.45"/>
<rect x="189.78" y="483.21" width="5.95" height="5.95" fill="none" stroke="#0000ff" stroke-width="1.45"/>
<rect x="207.81" y="486.48" width="5.95" height="5.95" fill="none" stroke="#0000ff" stroke-width="1.45"/>
<rect x="225.83" y="487.68" width="5.95" height="5.95" fill="none" stroke="#0000ff" stroke-width="1.45"/>
<rect x="243.85" y="489.21" width="5.95" height="5.95" fill="none" stroke="#0000ff" stroke-width="1.45"/>
<rect x="261.87" y="489.24" width="5.95" height="5.95" fill="none" stroke="#0000ff" stroke-width="1.45"/>
<path d="M67.05 499.9h10.6M277.05 499.9h-10.6M67.05 485.89h5.8M277.05 485.89h-5.8M67.05 471.87h5.8M277.05 471.87h-5.8M67.05 457.86h5.8M277.05 457.86h-5.8M67.05 443.84h10.6M277.05 443.84h-10.6M67.05 429.83h5.8M277.05 429.83h-5.8M67.05 415.81h5.8M277.05 415.81h-5.8M67.05 401.8h5.8M277.05 401.8h-5.8M67.05 387.78h10.6M277.05 387.78h-10.6M67.05 373.76h5.8M277.05 373.76h-5.8M67.05 359.75h5.8M277.05 359.75h-5.8M67.05 345.74h5.8M277.05 345.74h-5.8M66.6 513.3v-11.3M78.61 513.3v-6.3M90.63 513.3v-6.3M102.64 513.3v-6.3M114.66 513.3v-6.3M126.67 513.3v-11.3M138.69 513.3v-6.3M150.7 513.3v-6.3M162.72 513.3v-6.3M174.74 513.3v-6.3M186.75 513.3v-11.3M198.76 513.3v-6.3M210.78 513.3v-6.3M222.79 513.3v-6.3M234.81 513.3v-6.3M246.82 513.3v-11.3M258.84 513.3v-6.3M270.86 513.3v-6.3" stroke="#000" stroke-width="1.5" fill="none"/>
<rect x="67.05" y="345.4" width="210" height="167.9" fill="none" stroke="#000" stroke-width="1.8"/>
<text transform="translate(58.55 506.8) rotate(0.03)" text-anchor="end" class="tl">1</text>
<text transform="translate(58.55 450.74) rotate(0.03)" text-anchor="end" class="tl">1.2</text>
<text transform="translate(58.55 394.68) rotate(0.03)" text-anchor="end" class="tl">1.4</text>
<text transform="translate(74.45 364.9) rotate(0.03) scale(1.2 1)" class="ss">(c)</text>
<text transform="translate(99.35 364.9) rotate(0.03)" class="pt">C</text>
<text transform="translate(111.65 368.2) rotate(0.03) scale(0.85 1)" class="pt" style="font-size:14.4px">1</text>
<text transform="translate(117.85 364.9) rotate(0.03)" class="pt"><tspan dy="1.1">=</tspan><tspan dy="-1.1">0.35, N</tspan><tspan dy="1.1">=</tspan><tspan dy="-1.1">1200</tspan></text>
</g>
<g>
<line x1="345.4" y1="377.32" x2="345.4" y2="421.29" stroke="#ff0000" stroke-width="1.45"/>
<line x1="363.4" y1="404.25" x2="363.4" y2="419.36" stroke="#ff0000" stroke-width="1.45"/>
<line x1="381.4" y1="422.18" x2="381.4" y2="429.05" stroke="#ff0000" stroke-width="1.45"/>
<line x1="399.4" y1="437.91" x2="399.4" y2="442.04" stroke="#ff0000" stroke-width="1.45"/>
<path d="M345.4 399.3L363.4 411.81L381.4 425.62L399.4 439.97L417.4 452.34L435.4 461.96L453.4 469.17L471.4 475.22L489.4 479.55L507.4 483.6L525.4 486.55" fill="none" stroke="#ff0000" stroke-width="1.45" stroke-dasharray="9.5 4" stroke-dashoffset="0"/>
<path d="M345.4 395.26L341.9 401.32L348.9 401.32Z" fill="none" stroke="#ff0000" stroke-width="1.45"/>
<path d="M363.4 407.77L359.9 413.83L366.9 413.83Z" fill="none" stroke="#ff0000" stroke-width="1.45"/>
<path d="M381.4 421.57L377.9 427.64L384.9 427.64Z" fill="none" stroke="#ff0000" stroke-width="1.45"/>
<path d="M399.4 435.93L395.9 442L402.9 442Z" fill="none" stroke="#ff0000" stroke-width="1.45"/>
<path d="M417.4 448.3L413.9 454.36L420.9 454.36Z" fill="none" stroke="#ff0000" stroke-width="1.45"/>
<path d="M435.4 457.92L431.9 463.98L438.9 463.98Z" fill="none" stroke="#ff0000" stroke-width="1.45"/>
<path d="M453.4 465.13L449.9 471.19L456.9 471.19Z" fill="none" stroke="#ff0000" stroke-width="1.45"/>
<path d="M471.4 471.18L467.9 477.24L474.9 477.24Z" fill="none" stroke="#ff0000" stroke-width="1.45"/>
<path d="M489.4 475.5L485.9 481.57L492.9 481.57Z" fill="none" stroke="#ff0000" stroke-width="1.45"/>
<path d="M507.4 479.56L503.9 485.62L510.9 485.62Z" fill="none" stroke="#ff0000" stroke-width="1.45"/>
<path d="M525.4 482.51L521.9 488.57L528.9 488.57Z" fill="none" stroke="#ff0000" stroke-width="1.45"/>
<line x1="345.4" y1="468.14" x2="345.4" y2="490.13" stroke="#000000" stroke-width="1.45"/>
<line x1="363.4" y1="477.42" x2="363.4" y2="485.66" stroke="#000000" stroke-width="1.45"/>
<line x1="381.4" y1="482.43" x2="381.4" y2="486.55" stroke="#000000" stroke-width="1.45"/>
<path d="M345.4 479.13L363.4 481.54L381.4 484.49L399.4 487.51L417.4 489.78L435.4 491.5L453.4 493.22L471.4 494.45L489.4 495.69L507.4 496.86L525.4 497.55" fill="none" stroke="#000000" stroke-width="1.45"/>
<circle cx="345.4" cy="479.13" r="3.5" fill="none" stroke="#000000" stroke-width="1.45"/>
<circle cx="363.4" cy="481.54" r="3.5" fill="none" stroke="#000000" stroke-width="1.45"/>
<circle cx="381.4" cy="484.49" r="3.5" fill="none" stroke="#000000" stroke-width="1.45"/>
<circle cx="399.4" cy="487.51" r="3.5" fill="none" stroke="#000000" stroke-width="1.45"/>
<circle cx="417.4" cy="489.78" r="3.5" fill="none" stroke="#000000" stroke-width="1.45"/>
<circle cx="435.4" cy="491.5" r="3.5" fill="none" stroke="#000000" stroke-width="1.45"/>
<circle cx="453.4" cy="493.22" r="3.5" fill="none" stroke="#000000" stroke-width="1.45"/>
<circle cx="471.4" cy="494.45" r="3.5" fill="none" stroke="#000000" stroke-width="1.45"/>
<circle cx="489.4" cy="495.69" r="3.5" fill="none" stroke="#000000" stroke-width="1.45"/>
<circle cx="507.4" cy="496.86" r="3.5" fill="none" stroke="#000000" stroke-width="1.45"/>
<circle cx="525.4" cy="497.55" r="3.5" fill="none" stroke="#000000" stroke-width="1.45"/>
<line x1="345.4" y1="479.61" x2="345.4" y2="498.85" stroke="#0000ff" stroke-width="1.45"/>
<line x1="363.4" y1="487.03" x2="363.4" y2="493.9" stroke="#0000ff" stroke-width="1.45"/>
<line x1="381.4" y1="490.47" x2="381.4" y2="493.9" stroke="#0000ff" stroke-width="1.45"/>
<path d="M345.4 489.23L363.4 490.47L381.4 492.19L399.4 493.7L417.4 494.8L435.4 495.69L453.4 496.45L471.4 497.2L489.4 497.75L507.4 498.09L525.4 498.3" fill="none" stroke="#0000ff" stroke-width="1.45" stroke-dasharray="1.35 4 6.65 4" stroke-dashoffset="1.4"/>
<rect x="342.42" y="486.26" width="5.95" height="5.95" fill="none" stroke="#0000ff" stroke-width="1.45"/>
<rect x="360.42" y="487.49" width="5.95" height="5.95" fill="none" stroke="#0000ff" stroke-width="1.45"/>
<rect x="378.42" y="489.21" width="5.95" height="5.95" fill="none" stroke="#0000ff" stroke-width="1.45"/>
<rect x="396.42" y="490.72" width="5.95" height="5.95" fill="none" stroke="#0000ff" stroke-width="1.45"/>
<rect x="414.42" y="491.82" width="5.95" height="5.95" fill="none" stroke="#0000ff" stroke-width="1.45"/>
<rect x="432.42" y="492.72" width="5.95" height="5.95" fill="none" stroke="#0000ff" stroke-width="1.45"/>
<rect x="450.42" y="493.47" width="5.95" height="5.95" fill="none" stroke="#0000ff" stroke-width="1.45"/>
<rect x="468.42" y="494.23" width="5.95" height="5.95" fill="none" stroke="#0000ff" stroke-width="1.45"/>
<rect x="486.42" y="494.78" width="5.95" height="5.95" fill="none" stroke="#0000ff" stroke-width="1.45"/>
<rect x="504.42" y="495.12" width="5.95" height="5.95" fill="none" stroke="#0000ff" stroke-width="1.45"/>
<rect x="522.42" y="495.33" width="5.95" height="5.95" fill="none" stroke="#0000ff" stroke-width="1.45"/>
<path d="M327.5 507.01h5.8M538 507.01h-5.8M327.5 500.1h10.6M538 500.1h-10.6M327.5 493.19h5.8M538 493.19h-5.8M327.5 486.28h5.8M538 486.28h-5.8M327.5 479.37h5.8M538 479.37h-5.8M327.5 472.46h5.8M538 472.46h-5.8M327.5 465.55h10.6M538 465.55h-10.6M327.5 458.64h5.8M538 458.64h-5.8M327.5 451.73h5.8M538 451.73h-5.8M327.5 444.82h5.8M538 444.82h-5.8M327.5 437.91h5.8M538 437.91h-5.8M327.5 431h10.6M538 431h-10.6M327.5 424.09h5.8M538 424.09h-5.8M327.5 417.18h5.8M538 417.18h-5.8M327.5 410.27h5.8M538 410.27h-5.8M327.5 403.36h5.8M538 403.36h-5.8M327.5 396.45h10.6M538 396.45h-10.6M327.5 389.54h5.8M538 389.54h-5.8M327.5 382.63h5.8M538 382.63h-5.8M327.5 375.72h5.8M538 375.72h-5.8M327.5 368.81h5.8M538 368.81h-5.8M327.5 361.9h10.6M538 361.9h-10.6M327.5 354.99h5.8M538 354.99h-5.8M327.5 348.08h5.8M538 348.08h-5.8M327.4 513.3v-11.3M339.4 513.3v-6.3M351.4 513.3v-6.3M363.4 513.3v-6.3M375.4 513.3v-6.3M387.4 513.3v-11.3M399.4 513.3v-6.3M411.4 513.3v-6.3M423.4 513.3v-6.3M435.4 513.3v-6.3M447.4 513.3v-11.3M459.4 513.3v-6.3M471.4 513.3v-6.3M483.4 513.3v-6.3M495.4 513.3v-6.3M507.4 513.3v-11.3M519.4 513.3v-6.3M531.4 513.3v-6.3" stroke="#000" stroke-width="1.5" fill="none"/>
<rect x="327.5" y="345.4" width="210.5" height="167.9" fill="none" stroke="#000" stroke-width="1.8"/>
<text transform="translate(319.7 507) rotate(0.03)" text-anchor="end" class="tl">1</text>
<text transform="translate(319.7 472.45) rotate(0.03)" text-anchor="end" class="tl">1.5</text>
<text transform="translate(319.7 437.9) rotate(0.03)" text-anchor="end" class="tl">2</text>
<text transform="translate(319.7 403.35) rotate(0.03)" text-anchor="end" class="tl">2.5</text>
<text transform="translate(319.7 368.8) rotate(0.03)" text-anchor="end" class="tl">3</text>
<text transform="translate(338.7 364.9) rotate(0.03) scale(1.2 1)" class="ss">(c’)</text>
<text transform="translate(366.4 364.9) rotate(0.03)" class="pt">C</text>
<text transform="translate(378.7 368.2) rotate(0.03) scale(0.85 1)" class="pt" style="font-size:14.4px">1</text>
<text transform="translate(384.9 364.9) rotate(0.03)" class="pt"><tspan dy="1.1">=</tspan><tspan dy="-1.1">0.40, N</tspan><tspan dy="1.1">=</tspan><tspan dy="-1.1">1600</tspan></text>
</g>
<text transform="translate(66.8 536.5) rotate(0.03)" text-anchor="middle" class="tl">0</text>
<text transform="translate(126.88 536.5) rotate(0.03)" text-anchor="middle" class="tl">50</text>
<text transform="translate(186.95 536.5) rotate(0.03)" text-anchor="middle" class="tl">100</text>
<text transform="translate(247.02 536.5) rotate(0.03)" text-anchor="middle" class="tl">150</text>
<text transform="translate(120.7 560.9) rotate(0.03) scale(1.05 1)" class="xl" font-style="italic" style="font-size:19.7px">Q</text>
<text transform="translate(137.9 566.6) rotate(0.03) scale(0.97 1.05)" class="xl" font-style="italic" style="font-size:15.8px">4</text>
<text transform="translate(151.9 560.9) rotate(0.03) scale(1.065 1)" class="xl" style="font-size:19.7px">(MeV/c)</text>
<text transform="translate(327.6 536.5) rotate(0.03)" text-anchor="middle" class="tl">0</text>
<text transform="translate(387.6 536.5) rotate(0.03)" text-anchor="middle" class="tl">50</text>
<text transform="translate(447.6 536.5) rotate(0.03)" text-anchor="middle" class="tl">100</text>
<text transform="translate(507.6 536.5) rotate(0.03)" text-anchor="middle" class="tl">150</text>
<text transform="translate(381.15 560.9) rotate(0.03) scale(1.05 1)" class="xl" font-style="italic" style="font-size:19.7px">Q</text>
<text transform="translate(398.35 566.6) rotate(0.03) scale(0.97 1.05)" class="xl" font-style="italic" style="font-size:15.8px">4</text>
<text transform="translate(412.35 560.9) rotate(0.03) scale(1.065 1)" class="xl" style="font-size:19.7px">(MeV/c)</text>
<text transform="translate(23.4 126.8) rotate(-90) scale(1.0 1.15)" font-size="20.0" class="yl" font-style="italic">C</text>
<text transform="translate(29.3 114.4) rotate(-90) scale(1.0 1.15)" font-size="15.3" class="yl" font-style="italic">4</text>
<text transform="translate(22.6 100.8) rotate(-90) scale(1.0 1.06)" font-size="20.0" class="yl">(</text>
<text transform="translate(23.4 92.8) rotate(-90) scale(1.0 1.15)" font-size="20.0" class="yl" font-style="italic">Q</text>
<text transform="translate(29.3 76.5) rotate(-90) scale(1.0 1.15)" font-size="15.3" class="yl" font-style="italic">4</text>
<text transform="translate(22.6 63.8) rotate(-90) scale(1.0 1.06)" font-size="20.0" class="yl">)</text>
<text transform="translate(29.75 295.15) rotate(-90) scale(1.0 1.15)" font-size="20.0" class="yl" font-style="italic">C</text>
<text transform="translate(35.65 282.75) rotate(-90) scale(1.0 1.15)" font-size="15.3" class="yl" font-style="italic">4</text>
<text transform="translate(28.95 269.15) rotate(-90) scale(1.0 1.06)" font-size="20.0" class="yl">(</text>
<text transform="translate(29.75 261.15) rotate(-90) scale(1.0 1.15)" font-size="20.0" class="yl" font-style="italic">Q</text>
<text transform="translate(35.65 244.85) rotate(-90) scale(1.0 1.15)" font-size="15.3" class="yl" font-style="italic">4</text>
<text transform="translate(28.95 232.15) rotate(-90) scale(1.0 1.06)" font-size="20.0" class="yl">)</text>
<text transform="translate(18.6 463.2) rotate(-90) scale(1.0 1.15)" font-size="20.0" class="yl" font-style="italic">C</text>
<text transform="translate(24.5 450.8) rotate(-90) scale(1.0 1.15)" font-size="15.3" class="yl" font-style="italic">4</text>
<text transform="translate(17.8 437.2) rotate(-90) scale(1.0 1.06)" font-size="20.0" class="yl">(</text>
<text transform="translate(18.6 429.2) rotate(-90) scale(1.0 1.15)" font-size="20.0" class="yl" font-style="italic">Q</text>
<text transform="translate(24.5 412.9) rotate(-90) scale(1.0 1.15)" font-size="15.3" class="yl" font-style="italic">4</text>
<text transform="translate(17.8 400.2) rotate(-90) scale(1.0 1.06)" font-size="20.0" class="yl">)</text>
<path d="M155.2 46.7L180.2 46.7" stroke="#ff0000" stroke-width="1.45" fill="none" stroke-dasharray="9.6 3.9" stroke-dashoffset="0.7"/>
<path d="M155.2 42.66L151.7 48.72L158.7 48.72Z" fill="none" stroke="#ff0000" stroke-width="1.45"/>
<path d="M180.2 42.66L176.7 48.72L183.7 48.72Z" fill="none" stroke="#ff0000" stroke-width="1.45"/>
<text transform="translate(192.5 52.3) rotate(0.03)" class="lg">T<tspan dy="1">=</tspan><tspan dy="-1">120MeV</tspan></text>
<path d="M155.2 66.65L180.2 66.65" stroke="#000000" stroke-width="1.45" fill="none"/>
<circle cx="155.2" cy="66.65" r="3.5" fill="none" stroke="#000000" stroke-width="1.45"/>
<circle cx="180.2" cy="66.65" r="3.5" fill="none" stroke="#000000" stroke-width="1.45"/>
<text transform="translate(192.5 72.25) rotate(0.03)" class="lg">T<tspan dy="1">=</tspan><tspan dy="-1">100MeV</tspan></text>
<path d="M155.2 86.6L180.2 86.6" stroke="#0000ff" stroke-width="1.45" fill="none" stroke-dasharray="1.3 3.9 6.5 3.9" stroke-dashoffset="1.0"/>
<rect x="152.22" y="83.62" width="5.95" height="5.95" fill="none" stroke="#0000ff" stroke-width="1.45"/>
<rect x="177.22" y="83.62" width="5.95" height="5.95" fill="none" stroke="#0000ff" stroke-width="1.45"/>
<text transform="translate(192.5 92.2) rotate(0.03)" class="lg">T<tspan dy="1">=</tspan><tspan dy="-1">80MeV</tspan></text>
</svg>
</body></html>
